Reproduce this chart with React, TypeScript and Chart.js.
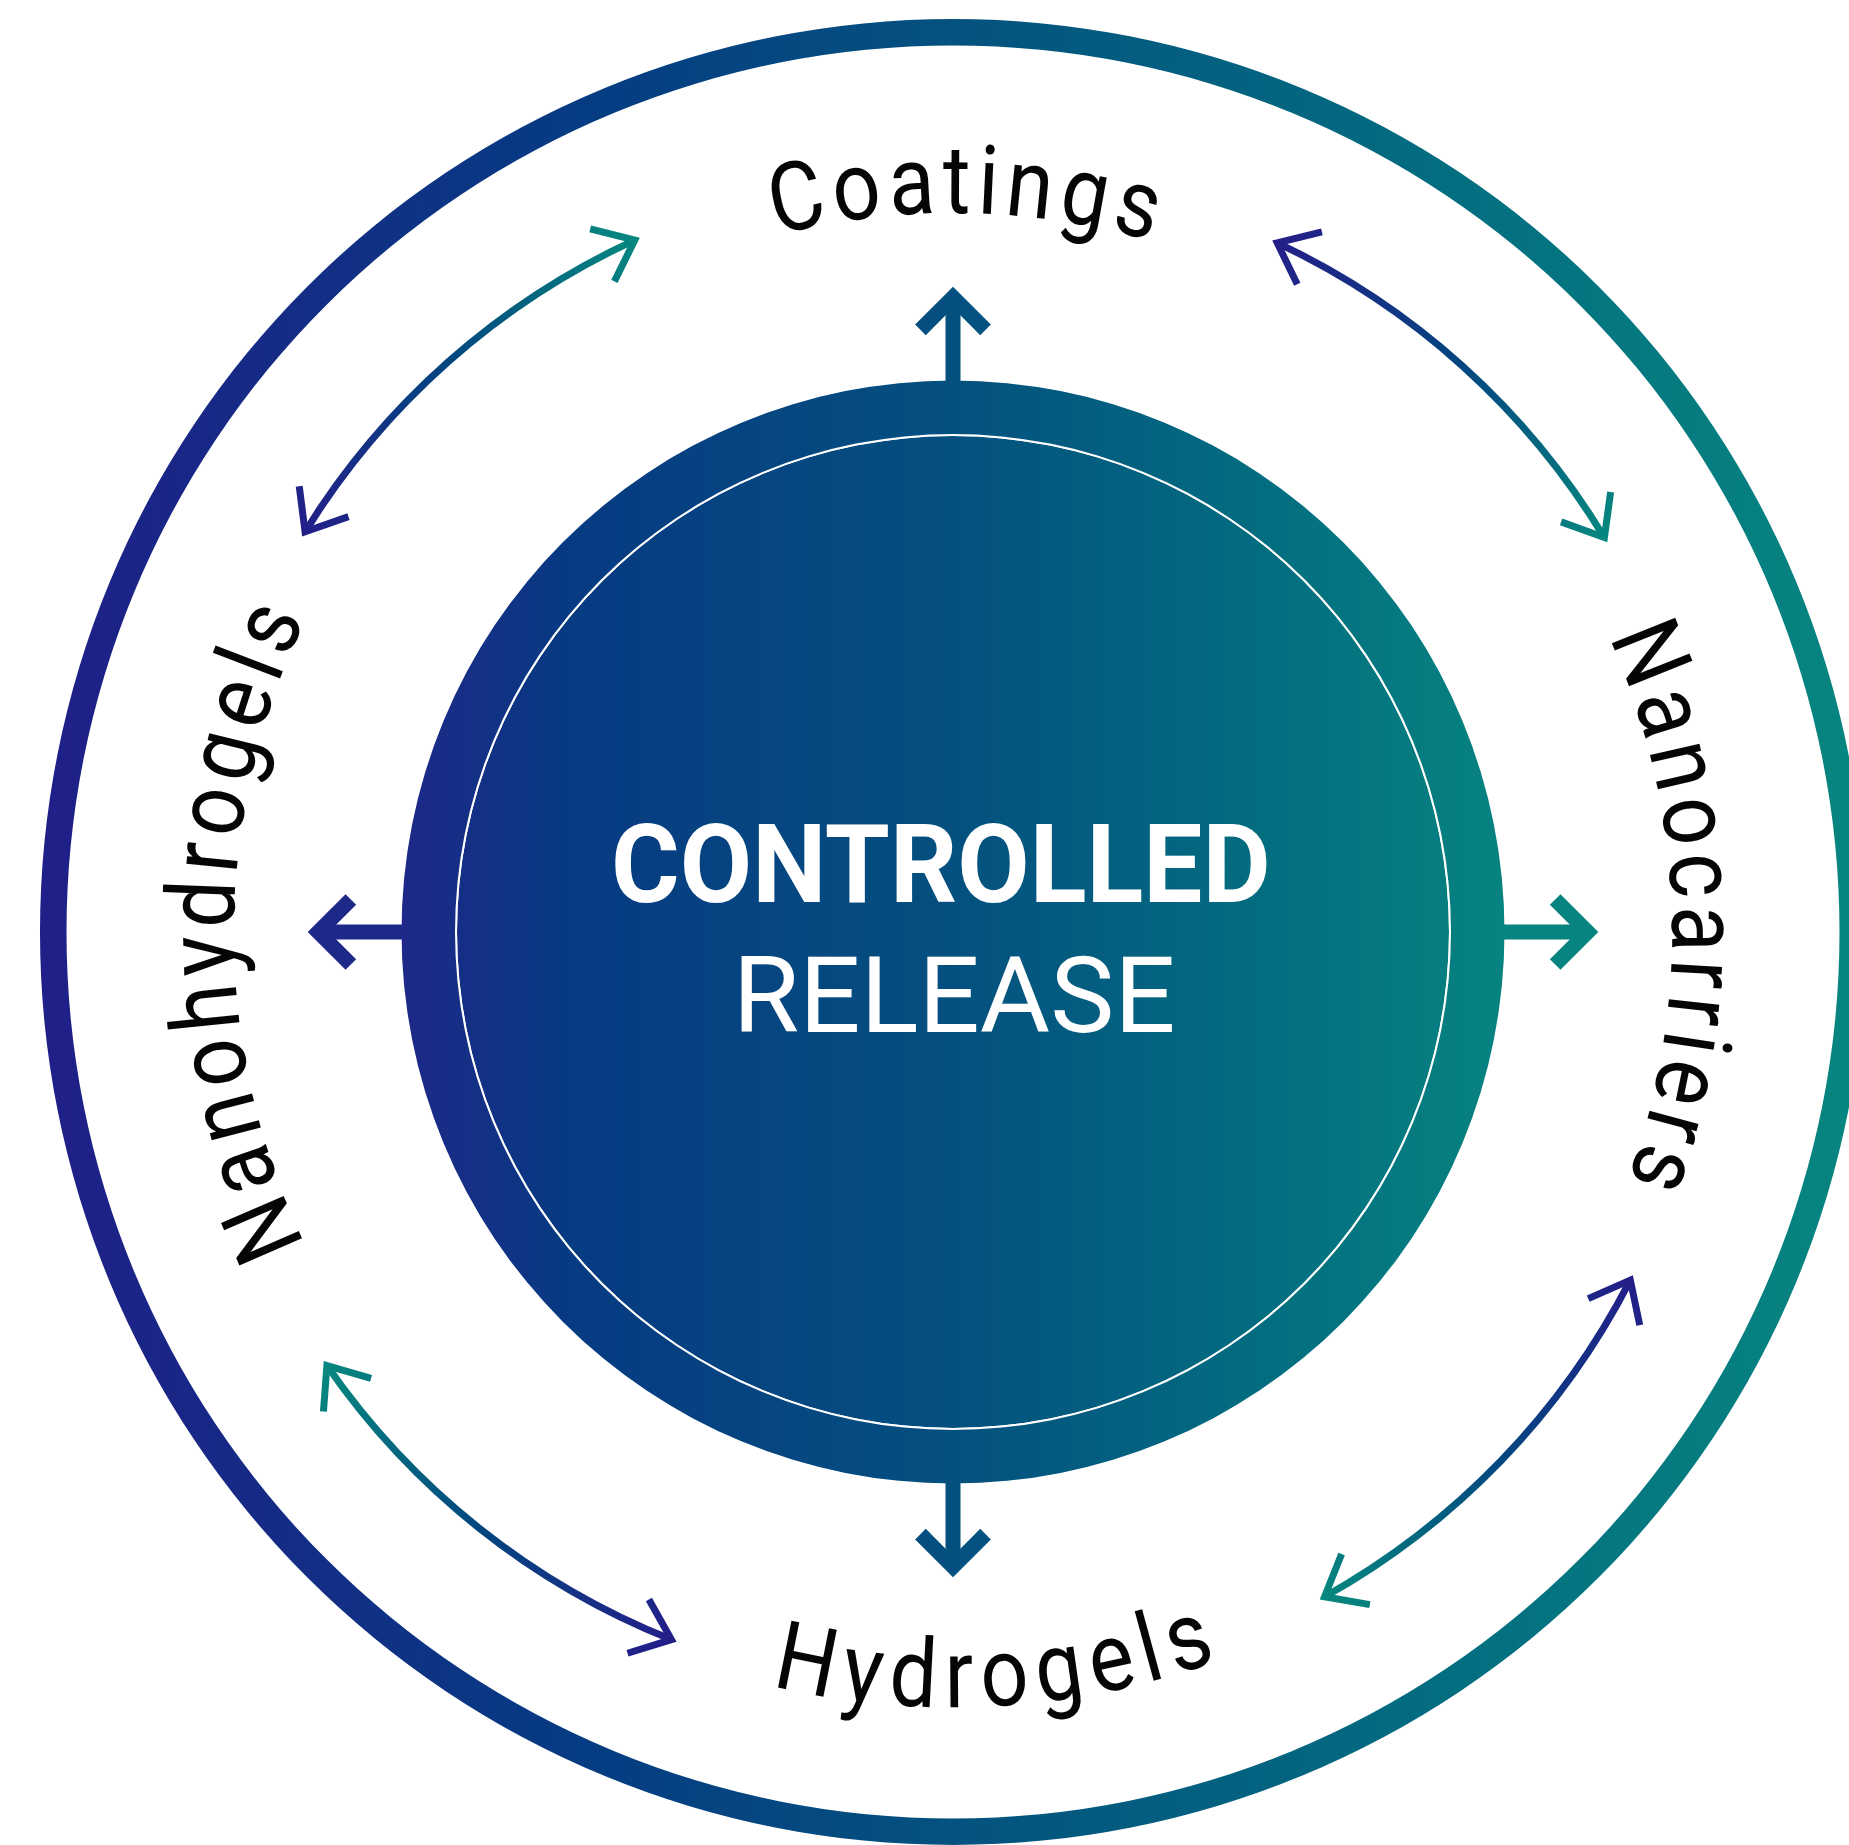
import React, { useEffect, useRef } from 'react';
import { Chart, registerables } from 'chart.js';

Chart.register(...registerables);

// ---- data ----
const categories = ['Coatings', 'Nanocarriers', 'Hydrogels', 'Nanohydrogels'];
const segmentValues = [1, 1, 1, 1];
const centerTitle = 'CONTROLLED';
const centerSubtitle = 'RELEASE';

// ---- layout / style constants ----
// ring thickness weights: outer ring, open band, disc rim, white line, disc core
const RING_WEIGHTS = [26.5, 335, 53.5, 2, 496];
const TOTAL_W = RING_WEIGHTS.reduce((a, b) => a + b, 0);
const DISC_FRAC = (RING_WEIGHTS[2] + RING_WEIGHTS[3] + RING_WEIGHTS[4]) / TOTAL_W;

const RING_STOPS: [number, string][] = [
  [0, '#201f88'],
  [0.3, '#053c82'],
  [0.5, '#04527f'],
  [0.75, '#036b80'],
  [1, '#078680'],
];
const DISC_STOPS: [number, string][] = [
  [0, '#1e2888'],
  [0.15, '#073a82'],
  [0.5, '#04507f'],
  [0.8, '#036f80'],
  [1, '#078380'],
];
const ARROW_STOPS: [number, string][] = [
  [0, '#231f89'],
  [0.5, '#03467f'],
  [1, '#06877f'],
];

function hGradient(ctx: CanvasRenderingContext2D, x0: number, x1: number, stops: [number, string][]) {
  const g = ctx.createLinearGradient(x0, 0, x1, 0);
  stops.forEach(([o, c]) => g.addColorStop(o, c));
  return g;
}

function geometry(chart: any) {
  const ca = chart.chartArea;
  const cx = (ca.left + ca.right) / 2;
  const cy = (ca.top + ca.bottom) / 2;
  const R = Math.min(ca.right - ca.left, ca.bottom - ca.top) / 2;
  return { cx, cy, R };
}

function ringColor(c: any) {
  const chart = c.chart;
  if (!chart.chartArea) return '#04527f';
  const { cx, R } = geometry(chart);
  return hGradient(chart.ctx, cx - R, cx + R, RING_STOPS);
}

function discColor(c: any) {
  const chart = c.chart;
  if (!chart.chartArea) return '#04527f';
  const { cx, R } = geometry(chart);
  const r = R * DISC_FRAC;
  return hGradient(chart.ctx, cx - r, cx + r, DISC_STOPS);
}

function drawArcText(
  ctx: CanvasRenderingContext2D,
  text: string,
  cx: number,
  cy: number,
  r: number,
  centerAngle: number,
  flip: boolean,
  spacing: number,
  charScale: number
) {
  const chars = Array.from(text);
  const widths = chars.map((ch) => ctx.measureText(ch).width * charScale);
  const total = widths.reduce((a, b) => a + b, 0) + spacing * (chars.length - 1);
  const dir = flip ? -1 : 1;
  const start = centerAngle - (dir * total) / (2 * r);
  let cum = 0;
  chars.forEach((ch, i) => {
    const a = start + (dir * (cum + widths[i] / 2)) / r;
    ctx.save();
    ctx.translate(cx + r * Math.cos(a), cy + r * Math.sin(a));
    ctx.rotate(a + (dir * Math.PI) / 2);
    ctx.scale(charScale, 1);
    ctx.fillText(ch, 0, 0);
    ctx.restore();
    cum += widths[i] + spacing;
  });
}

const deg = Math.PI / 180;

const decorPlugin = {
  id: 'ringDecor',
  afterDatasetsDraw(chart: any, _args: any, opts: any) {
    const ctx: CanvasRenderingContext2D = chart.ctx;
    const arcs = chart.getDatasetMeta(1).data as any[];
    const disc = chart.getDatasetMeta(2).data[0] as any;
    if (!arcs.length || !disc) return;
    const cx = arcs[0].x;
    const cy = arcs[0].y;
    const rIn = arcs[0].innerRadius;
    const rOut = arcs[0].outerRadius;
    const gap = rOut - rIn;
    const discR = disc.outerRadius;

    // straight arrows from the disc toward each category
    ctx.save();
    ctx.strokeStyle = hGradient(ctx, cx - discR, cx + discR, DISC_STOPS);
    ctx.lineWidth = opts.straightWidth;
    ctx.lineJoin = 'miter';
    ctx.lineCap = 'butt';
    arcs.forEach((arc) => {
      const m = (arc.startAngle + arc.endAngle) / 2;
      const ux = Math.cos(m);
      const uy = Math.sin(m);
      const tip = rIn + gap * opts.straightTip - (opts.straightWidth / 2) / Math.sin(opts.straightHeadAngle * deg);
      ctx.beginPath();
      ctx.moveTo(cx + ux * (discR - 2), cy + uy * (discR - 2));
      ctx.lineTo(cx + ux * tip, cy + uy * tip);
      ctx.stroke();
      const tx = cx + ux * tip;
      const ty = cy + uy * tip;
      const L = opts.straightHead;
      const h = opts.straightHeadAngle * deg;
      const back = Math.atan2(-uy, -ux);
      ctx.beginPath();
      ctx.moveTo(tx + L * Math.cos(back + h), ty + L * Math.sin(back + h));
      ctx.lineTo(tx, ty);
      ctx.lineTo(tx + L * Math.cos(back - h), ty + L * Math.sin(back - h));
      ctx.stroke();
    });
    ctx.restore();

    // curved double arrows between neighbouring categories
    const ra = rIn + gap * opts.curveRadius;
    arcs.forEach((arc, i) => {
      const c = arc.startAngle + (opts.curveNudge[i] || 0) * deg;
      const a0 = c - opts.curveHalfSpan * deg;
      const a1 = c + opts.curveHalfSpan * deg;
      const p0 = [cx + ra * Math.cos(a0), cy + ra * Math.sin(a0)];
      const p1 = [cx + ra * Math.cos(a1), cy + ra * Math.sin(a1)];
      const g = ctx.createLinearGradient(p0[0], p0[1], p1[0], p1[1]);
      ARROW_STOPS.forEach(([o, col]) => g.addColorStop(o, col));
      ctx.save();
      ctx.strokeStyle = g;
      ctx.lineWidth = opts.curveWidth;
      ctx.lineJoin = 'miter';
      ctx.lineCap = 'butt';
      ctx.beginPath();
      ctx.arc(cx, cy, ra, a0, a1, false);
      ctx.stroke();
      const L = opts.curveHead;
      const h = opts.curveHeadAngle * deg;
      const b1 = Math.atan2(-Math.cos(a1), Math.sin(a1));
      ctx.beginPath();
      ctx.moveTo(p1[0] + L * Math.cos(b1 + h), p1[1] + L * Math.sin(b1 + h));
      ctx.lineTo(p1[0], p1[1]);
      ctx.lineTo(p1[0] + L * Math.cos(b1 - h), p1[1] + L * Math.sin(b1 - h));
      ctx.stroke();
      const b0 = Math.atan2(Math.cos(a0), -Math.sin(a0));
      ctx.beginPath();
      ctx.moveTo(p0[0] + L * Math.cos(b0 + h), p0[1] + L * Math.sin(b0 + h));
      ctx.lineTo(p0[0], p0[1]);
      ctx.lineTo(p0[0] + L * Math.cos(b0 - h), p0[1] + L * Math.sin(b0 - h));
      ctx.stroke();
      ctx.restore();
    });

    // category labels along the band
    ctx.save();
    ctx.fillStyle = opts.labelColor;
    ctx.font = opts.labelFont;
    ctx.textAlign = 'center';
    ctx.textBaseline = 'alphabetic';
    const labels = chart.data.labels as string[];
    arcs.forEach((arc, i) => {
      const m = (arc.startAngle + arc.endAngle) / 2 + (opts.labelNudge[i] || 0) * deg;
      const norm = ((m % (2 * Math.PI)) + 2 * Math.PI) % (2 * Math.PI);
      const flip = norm > 45 * deg && norm < 135 * deg;
      const r = rIn + gap * (flip ? opts.labelRadiusFlip : opts.labelRadius);
      drawArcText(
        ctx,
        labels[i],
        cx,
        cy,
        r,
        m,
        flip,
        flip ? opts.labelSpacingFlip : opts.labelSpacing,
        opts.labelCharScale
      );
    });
    ctx.restore();

    // centre title
    ctx.save();
    ctx.fillStyle = '#ffffff';
    ctx.textAlign = 'center';
    ctx.textBaseline = 'alphabetic';
    ctx.font = opts.titleFont;
    const tw = ctx.measureText(centerTitle).width;
    const sx = (opts.titleWidth * discR) / tw;
    ctx.translate(cx + opts.titleDx * discR, cy + opts.titleBaseline * discR);
    ctx.scale(sx, 1);
    ctx.fillText(centerTitle, 0, 0);
    ctx.restore();

    ctx.save();
    ctx.fillStyle = '#ffffff';
    ctx.textAlign = 'center';
    ctx.textBaseline = 'alphabetic';
    ctx.font = opts.subtitleFont;
    const sw = ctx.measureText(centerSubtitle).width;
    const ssx = (opts.subtitleWidth * discR) / sw;
    ctx.translate(cx + opts.subtitleDx * discR, cy + opts.subtitleBaseline * discR);
    ctx.scale(ssx, 1);
    ctx.fillText(centerSubtitle, 0, 0);
    ctx.restore();
  },
};

export default function App() {
  const ref = useRef<HTMLCanvasElement>(null);

  useEffect(() => {
    if (!ref.current) return;
    const common = { borderWidth: 0, hoverOffset: 0, offset: 0 };
    const chart = new Chart(ref.current, {
      type: 'doughnut',
      data: {
        labels: categories,
        datasets: [
          { ...common, data: [1], weight: RING_WEIGHTS[0], backgroundColor: ringColor },
          { ...common, data: segmentValues, weight: RING_WEIGHTS[1], backgroundColor: 'rgba(0,0,0,0)' },
          { ...common, data: [1], weight: RING_WEIGHTS[2], backgroundColor: discColor },
          { ...common, data: [1], weight: RING_WEIGHTS[3], backgroundColor: '#ffffff' },
          { ...common, data: [1], weight: RING_WEIGHTS[4], backgroundColor: discColor },
        ] as any,
      },
      options: {
        animation: false,
        responsive: false,
        events: [],
        rotation: -45,
        cutout: 0,
        layout: { padding: 19 },
        plugins: {
          legend: { display: false },
          tooltip: { enabled: false },
          ringDecor: {
            straightWidth: 15,
            straightTip: 0.28,
            straightHead: 46,
            straightHeadAngle: 45,
            curveRadius: 0.627,
            curveHalfSpan: 16.8,
            curveNudge: [3.5, -3, -1, -6.5],
            curveWidth: 7,
            curveHead: 46,
            curveHeadAngle: 39,
            labelFont: '400 96px Roboto, "DejaVu Sans", sans-serif',
            labelColor: '#050505',
            labelSpacing: 6.5,
            labelSpacingFlip: 9,
            labelCharScale: 0.88,
            labelRadius: 0.5,
            labelRadiusFlip: 0.668,
            labelNudge: [0.9, -2, -3.2, 0],
            titleFont: '700 110px Roboto, "DejaVu Sans", sans-serif',
            titleWidth: 1.196,
            titleDx: -0.022,
            titleBaseline: -0.054,
            subtitleFont: '400 106px Roboto, "DejaVu Sans", sans-serif',
            subtitleWidth: 0.803,
            subtitleDx: 0.002,
            subtitleBaseline: 0.181,
          },
        } as any,
      },
      plugins: [decorPlugin],
    });
    return () => chart.destroy();
  }, []);

  return (
    <div
      style={{
        position: 'fixed',
        left: 0,
        top: 0,
        width: 1849,
        height: 1845,
        overflow: 'hidden',
        background: '#ffffff',
      }}
    >
      <canvas ref={ref} width={1906} height={1864} style={{ display: 'block', width: 1906, height: 1864 }} />
    </div>
  );
}
